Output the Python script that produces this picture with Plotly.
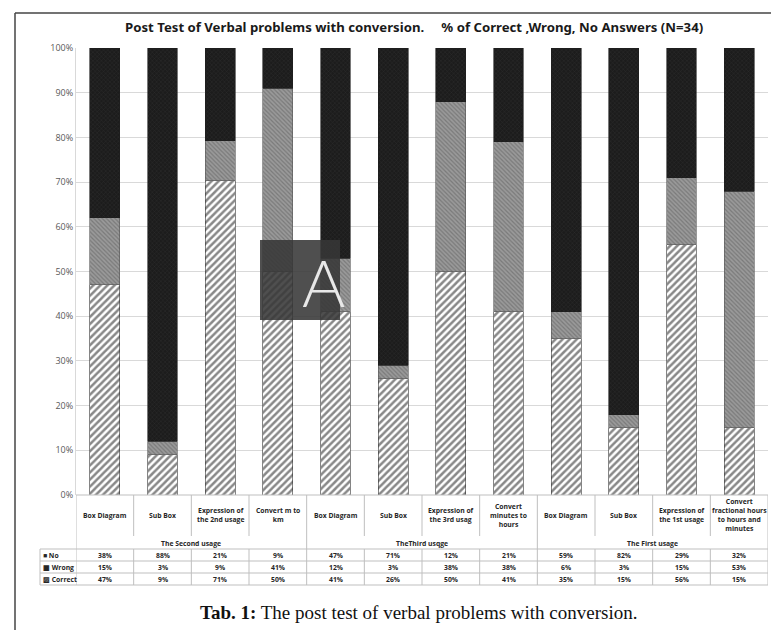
import plotly.graph_objects as go

# ---------------- data ----------------
categories = ["Box Diagram", "Sub Box", "Expression of<br>the 2nd usage", "Convert m to<br>km",
              "Box Diagram", "Sub Box", "Expression of<br>the 3rd usag", "Convert<br>minutes to<br>hours",
              "Box Diagram", "Sub Box", "Expression of<br>the 1st usage",
              "Convert<br>fractional hours<br>to hours and<br>minutes"]
groups = ["The Second usage", "TheThird usqge", "The First usage"]
group_sizes = [4, 4, 4]
no_pct = [38, 88, 21, 9, 47, 71, 12, 21, 59, 82, 29, 32]
wrong_pct = [15, 3, 9, 41, 12, 3, 38, 38, 6, 3, 15, 53]
correct_pct = [47, 9, 71, 50, 41, 26, 50, 41, 35, 15, 56, 15]
row_labels = ["\u25a0 No", "\u25a6 Wrong", "\u25a8 Correct"]
y_ticks = [0, 10, 20, 30, 40, 50, 60, 70, 80, 90, 100]
title_text = ("Post Test of Verbal problems with conversion.\u00a0\u00a0\u00a0\u00a0\u00a0"
              "% of Correct ,Wrong, No Answers (N=34)")
caption_bold = "Tab. 1:"
caption_rest = " The post test of verbal problems with conversion."

# ---------------- geometry helpers ----------------
W, H = 779, 630
ML, MR, MT, MB = 68, 19, 40, 143
PH = H - MT - MB
PW = W - ML - MR


def py(px):  # pixel y -> paper y
    return (H - MB - px) / PH


def pxx(px):  # pixel x -> paper x
    return (px - ML) / PW


n = len(categories)
xs = list(range(n))
LEG_P = pxx(32)

fig = go.Figure()
fig.add_trace(go.Bar(x=xs, y=correct_pct, name="Correct", width=0.52,
                     marker=dict(color="white", line=dict(color="#333", width=0.6),
                                 pattern=dict(shape="/", fgcolor="#111111", bgcolor="white",
                                              size=5, solidity=0.5))))
fig.add_trace(go.Bar(x=xs, y=wrong_pct, name="Wrong", width=0.52,
                     marker=dict(color="#8a8a8a", line=dict(color="#555", width=0.6),
                                 pattern=dict(shape="\\", fgcolor="#5a5a5a", bgcolor="#9a9a9a",
                                              size=3, solidity=0.4))))
fig.add_trace(go.Bar(x=xs, y=no_pct, name="No", width=0.52,
                     marker=dict(color="#1e1e1e", line=dict(color="#1e1e1e", width=0.6),
                                 pattern=dict(shape="x", fgcolor="#3c3c3c", bgcolor="#1c1c1c",
                                              size=3, solidity=0.3))))

shapes = []
lc = "#bfbfbf"
# axis line at 0
shapes.append(dict(type="line", xref="x", yref="paper", x0=-0.5, x1=n - 0.5, y0=0, y1=0,
                   line=dict(color=lc, width=1)))
# category row verticals
for i in range(n + 1):
    shapes.append(dict(type="line", xref="x", yref="paper", x0=i - 0.5, x1=i - 0.5,
                       y0=0, y1=py(528), line=dict(color=lc, width=1)))
# group row verticals
b = -0.5
shapes.append(dict(type="line", xref="x", yref="paper", x0=b, x1=b, y0=py(528), y1=py(541),
                   line=dict(color=lc, width=1)))
for gsz in group_sizes:
    b += gsz
    shapes.append(dict(type="line", xref="x", yref="paper", x0=b, x1=b, y0=py(528), y1=py(541),
                       line=dict(color=lc, width=1)))
# data row horizontals
row_lines = [541, 553, 565, 577]
for yy in row_lines:
    shapes.append(dict(type="line", xref="paper", yref="paper", x0=LEG_P, x1=1,
                       y0=py(yy), y1=py(yy), line=dict(color=lc, width=1)))
# data row verticals
shapes.append(dict(type="line", xref="paper", yref="paper", x0=LEG_P, x1=LEG_P,
                   y0=py(541), y1=py(577), line=dict(color=lc, width=1)))
for xv in [i - 0.5 for i in range(n + 1)]:
    shapes.append(dict(type="line", xref="x", yref="paper", x0=xv, x1=xv,
                       y0=py(541), y1=py(577), line=dict(color=lc, width=1)))
# outer frame
shapes.append(dict(type="line", xref="paper", yref="paper", x0=pxx(7), x1=pxx(779),
                   y0=py(5), y1=py(5), line=dict(color="#444", width=1.5)))
shapes.append(dict(type="line", xref="paper", yref="paper", x0=pxx(7), x1=pxx(7),
                   y0=py(5), y1=py(630), line=dict(color="#444", width=1.5)))
# watermark square
shapes.append(dict(type="rect", xref="paper", yref="paper", x0=pxx(252), x1=pxx(332),
                   y0=py(312), y1=py(232), fillcolor="rgba(55,55,55,0.88)",
                   line=dict(width=0), layer="above"))

ann = []
tf = dict(family="Open Sans", size=6.8, color="#262626", weight="bold")
for i, c in enumerate(categories):
    ann.append(dict(x=i, y=py(507), xref="x", yref="paper", text=c, showarrow=False,
                    font=tf, yanchor="middle", align="center"))
start = 0
for g, gsz in zip(groups, group_sizes):
    ann.append(dict(x=start + (gsz - 1) / 2, y=py(535), xref="x", yref="paper", text=g,
                    showarrow=False, font=tf, yanchor="middle"))
    start += gsz
row_vals = [no_pct, wrong_pct, correct_pct]
row_centers = [547, 559, 571]
for lab, vals, yc in zip(row_labels, row_vals, row_centers):
    ann.append(dict(x=pxx(33), y=py(yc), xref="paper", yref="paper", text=lab,
                    showarrow=False, font=tf, xanchor="left", yanchor="middle"))
    for i, v in enumerate(vals):
        ann.append(dict(x=i, y=py(yc), xref="x", yref="paper", text=f"{v}%",
                        showarrow=False, font=tf, yanchor="middle"))
# title
ann.append(dict(x=pxx(406), y=py(19), xref="paper", yref="paper", text=title_text,
                showarrow=False, yanchor="middle",
                font=dict(family="Noto Sans", size=13.2, color="#1a1a1a", weight="bold")))
# caption
ann.append(dict(x=pxx(411), y=py(604), xref="paper", yref="paper",
                text=f"<b>{caption_bold}</b>{caption_rest}", showarrow=False, yanchor="middle",
                font=dict(family="Liberation Serif", size=19, color="#111")))
# watermark letter
ann.append(dict(x=pxx(292), y=py(273), xref="paper", yref="paper", text="A", showarrow=False,
                yanchor="middle", font=dict(family="Lato", size=66, color="#e8e8e8", weight=300)))

fig.update_layout(
    width=W, height=H, margin=dict(l=ML, r=MR, t=MT, b=MB),
    barmode="stack", barnorm="percent", showlegend=False,
    plot_bgcolor="white", paper_bgcolor="white",
    shapes=shapes, annotations=ann,
    xaxis=dict(range=[-0.5, n - 0.5], showticklabels=False, showgrid=False, zeroline=False,
               showline=False, fixedrange=True),
    yaxis=dict(range=[0, 100], tickvals=y_ticks, ticktext=[f"{t}%" for t in y_ticks],
               showgrid=True, gridcolor="#d9d9d9", gridwidth=1, zeroline=False,
               showline=True, linecolor="#d9d9d9", ticks="", ticklen=0,
               tickfont=dict(family="Open Sans", size=9, color="#595959")),
)

fig.write_html("out.html")
